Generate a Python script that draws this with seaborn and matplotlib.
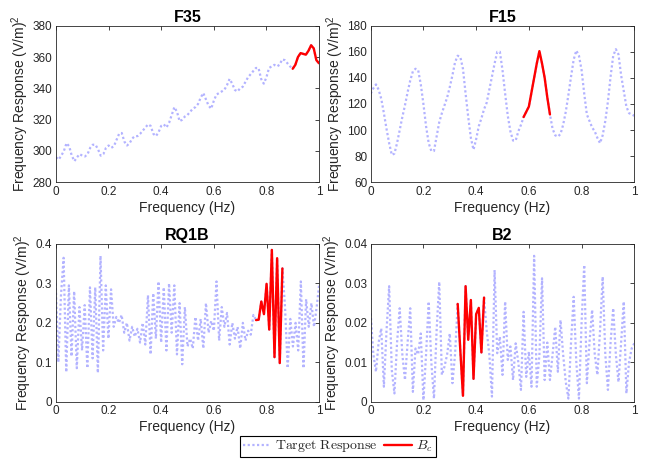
import numpy as np
import pandas as pd
import seaborn as sns
import matplotlib
matplotlib.use("Agg")
import matplotlib.pyplot as plt
from matplotlib.ticker import FuncFormatter
from matplotlib.lines import Line2D
from matplotlib.font_manager import FontProperties

# ---------------- data ----------------
freq = [round(i * 0.01, 2) for i in range(101)]

f35_target = [296, 294.5, 297, 300, 305, 303, 297, 293.5, 296, 298,
              297, 296.5, 298, 302, 304, 304, 301, 297, 298, 302,
              303.5, 302, 303, 307, 311, 311.5, 306, 303.5, 305, 308,
              309.5, 309.5, 311, 313, 315, 317, 316, 311, 309.5, 312,
              316, 317, 315, 318, 323, 328, 325, 319, 320, 322,
              323, 325, 327, 328, 330, 334, 337, 333, 329, 327,
              332, 336, 337, 338, 339, 342, 346, 343, 339, 338,
              340, 341, 344, 347, 349, 351, 353, 353, 346, 343,
              347, 353, 354, 355, 354, 355, 358.5, 358, 356, 354,
              352.5, 355, 360, 362.5, 362, 361.5, 364, 367.5, 365.5, 358, 356]
f35_bc_freq = [0.90, 0.91, 0.92, 0.93, 0.94, 0.95, 0.96, 0.97, 0.98, 0.99, 1.00]
f35_bc = [352.5, 355, 360, 362.5, 362, 361.5, 364, 367.5, 365.5, 358, 356]

f15_target = [128, 132, 135, 131, 124, 113, 101, 90, 81, 82,
              90, 100, 110, 119, 129, 138, 145, 147, 146, 135,
              120, 103, 90, 84, 84, 95, 106, 113, 119, 125,
              133, 142, 152, 157, 156, 147, 128, 110, 94, 85,
              93, 103, 109, 116, 121, 131, 141, 151, 160, 160,
              146, 128, 111, 99, 92, 92, 99, 104, 110, 114,
              118, 129, 140, 151, 160.5, 151, 140, 125, 112, 101,
              96, 95, 97, 104, 114, 127, 141, 154, 161, 157,
              146, 128, 112, 107, 102, 99, 94, 90, 96, 107,
              122, 141, 157, 162, 158, 142, 130, 118, 113, 112, 111]
f15_bc_freq = [0.58, 0.59, 0.60, 0.61, 0.62, 0.63, 0.64, 0.65, 0.66, 0.67, 0.68]
f15_bc = [110, 114, 118, 129, 140, 151, 160.5, 151, 140, 125, 112]

rq1b_target = [0.30, 0.10, 0.27, 0.365, 0.075, 0.295, 0.115, 0.28, 0.085, 0.24,
               0.13, 0.245, 0.085, 0.29, 0.11, 0.29, 0.073, 0.37, 0.13, 0.295,
               0.16, 0.285, 0.19, 0.215, 0.20, 0.22, 0.175, 0.20, 0.155, 0.19,
               0.165, 0.185, 0.15, 0.20, 0.145, 0.27, 0.12, 0.275, 0.16, 0.305,
               0.15, 0.29, 0.13, 0.30, 0.175, 0.295, 0.12, 0.25, 0.095, 0.24,
               0.14, 0.16, 0.135, 0.215, 0.155, 0.21, 0.135, 0.25, 0.175, 0.205,
               0.18, 0.305, 0.155, 0.24, 0.19, 0.225, 0.145, 0.20, 0.16, 0.19,
               0.135, 0.20, 0.155, 0.18, 0.17, 0.22, 0.207, 0.208, 0.254, 0.222,
               0.299, 0.183, 0.385, 0.113, 0.364, 0.098, 0.338, 0.24, 0.085, 0.21,
               0.14, 0.20, 0.13, 0.305, 0.085, 0.26, 0.19, 0.25, 0.19, 0.24, 0.30]
rq1b_bc_freq = [0.76, 0.77, 0.78, 0.79, 0.80, 0.81, 0.82, 0.83, 0.84, 0.85, 0.86]
rq1b_bc = [0.207, 0.208, 0.254, 0.222, 0.299, 0.183, 0.385, 0.113, 0.364, 0.098, 0.338]

b2_target = [0.0224, 0.012, 0.0076, 0.015, 0.0186, 0.0038, 0.018, 0.0293, 0.008, 0.0021,
             0.015, 0.0237, 0.012, 0.0055, 0.015, 0.0237, 0.0025, 0.0135, 0.012, 0.0173,
             0.0004, 0.012, 0.0254, 0.010, 0.0008, 0.018, 0.0304, 0.0068, 0.0089, 0.012,
             0.0173, 0.0047, 0.012, 0.0248, 0.013, 0.0015, 0.0293, 0.0157, 0.0258, 0.0058,
             0.0222, 0.0238, 0.0125, 0.0264, 0.018, 0.012, 0.0013, 0.0334, 0.0123, 0.0165,
             0.0068, 0.0254, 0.0106, 0.014, 0.0055, 0.0148, 0.010, 0.003, 0.0228, 0.0063,
             0.0127, 0.0038, 0.037, 0.0038, 0.0118, 0.0313, 0.0055, 0.015, 0.0055, 0.012,
             0.019, 0.0076, 0.0207, 0.012, 0.005, 0.0008, 0.015, 0.0266, 0.010, 0.0008,
             0.020, 0.0347, 0.0047, 0.015, 0.0233, 0.012, 0.0068, 0.018, 0.0317, 0.012,
             0.003, 0.015, 0.0237, 0.012, 0.005, 0.015, 0.0254, 0.0021, 0.010, 0.0135, 0.0148]
b2_bc_freq = [0.33, 0.34, 0.35, 0.36, 0.37, 0.38, 0.39, 0.40, 0.41, 0.42, 0.43]
b2_bc = [0.0248, 0.013, 0.0015, 0.0293, 0.0157, 0.0258, 0.0058, 0.0222, 0.0238, 0.0125, 0.0264]

titles = ["F35", "F15", "RQ1B", "B2"]
ylims = [(280, 380), (60, 180), (0, 0.4), (0, 0.04)]
yticks = [[280, 300, 320, 340, 360, 380],
          [60, 80, 100, 120, 140, 160, 180],
          [0, 0.1, 0.2, 0.3, 0.4],
          [0, 0.01, 0.02, 0.03, 0.04]]
xticks = [0, 0.2, 0.4, 0.6, 0.8, 1]

# ---------------- style ----------------
sns.set_style("white")
plt.rcParams["font.family"] = ["Liberation Sans", "DejaVu Sans"]
plt.rcParams["mathtext.fontset"] = "custom"
plt.rcParams["mathtext.rm"] = "Liberation Sans"
plt.rcParams["mathtext.it"] = "Liberation Sans:italic"

target_color = "#b3b3ff"
bc_color = "#ff0000"
axis_color = "#262626"
dot_style = (0, (1, 1.1))

fig = plt.figure(figsize=(6.45, 4.62), dpi=100)
positions = [
    [56 / 645, 1 - 182.3 / 462, 263 / 645, 156.6 / 462],
    [370.7 / 645, 1 - 182.3 / 462, 263.6 / 645, 156.6 / 462],
    [55.7 / 645, 1 - 401.7 / 462, 263.6 / 645, 157.7 / 462],
    [370.7 / 645, 1 - 401.7 / 462, 263.6 / 645, 157.7 / 462],
]

targets = [f35_target, f15_target, rq1b_target, b2_target]
bcs = [(f35_bc_freq, f35_bc), (f15_bc_freq, f15_bc), (rq1b_bc_freq, rq1b_bc), (b2_bc_freq, b2_bc)]

fmt = FuncFormatter(lambda v, p: ("%g" % round(v, 6)))

for i in range(4):
    ax = fig.add_axes(positions[i])
    df_t = pd.DataFrame({"Frequency": freq, "Response": targets[i]})
    df_b = pd.DataFrame({"Frequency": bcs[i][0], "Response": bcs[i][1]})
    sns.lineplot(data=df_t, x="Frequency", y="Response", ax=ax, color=target_color,
                 linestyle=dot_style, linewidth=1.6, sort=False)
    sns.lineplot(data=df_b, x="Frequency", y="Response", ax=ax, color=bc_color,
                 linewidth=1.7, sort=False)
    ax.set_xlim(0, 1)
    ax.set_ylim(*ylims[i])
    ax.set_xticks(xticks)
    ax.set_yticks(yticks[i])
    ax.xaxis.set_major_formatter(fmt)
    ax.yaxis.set_major_formatter(fmt)
    ax.tick_params(direction="in", length=3, width=0.6, colors=axis_color,
                   labelsize=8.5, top=True, right=True, pad=2.5)
    for sp in ax.spines.values():
        sp.set_color(axis_color)
        sp.set_linewidth(0.6)
        sp.set_visible(True)
    ax.set_title(titles[i], fontsize=11.5, fontweight="bold", pad=3, color="black")
    ax.set_xlabel("Frequency (Hz)", fontsize=10, color=axis_color, labelpad=2)
    ax.set_ylabel("Frequency Response (V/m)$^2$", fontsize=10, color=axis_color, labelpad=1)

handles = [Line2D([], [], color=target_color, linestyle=dot_style, linewidth=1.6),
           Line2D([], [], color=bc_color, linewidth=1.7)]
labels = [r"$\mathrm{Target\ Response}$", r"$B_c$"]
leg = fig.legend(handles, labels, loc="center", bbox_to_anchor=(338 / 645, 1 - 446.5 / 462),
                 ncol=2, frameon=True, fancybox=False, framealpha=1,
                 prop=FontProperties(size=10, math_fontfamily="cm"),
                 handlelength=2.0, handletextpad=0.3, columnspacing=0.5,
                 borderpad=0.2, borderaxespad=0)
leg.get_frame().set_edgecolor("#000000")
leg.get_frame().set_linewidth(0.8)

fig.savefig("out.png", dpi=100)
